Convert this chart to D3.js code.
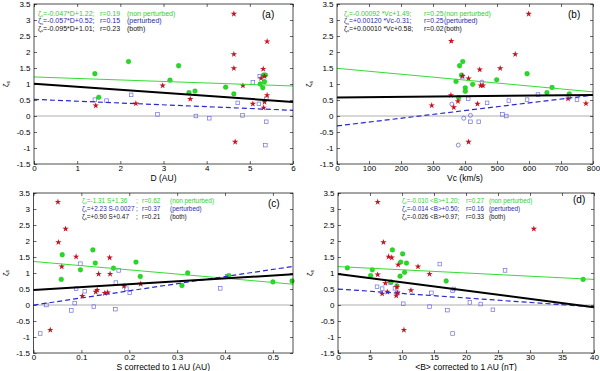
<!DOCTYPE html>
<html><head><meta charset="utf-8">
<script src="https://cdn.jsdelivr.net/npm/d3@7"></script>
<style>body{margin:0;background:#fff}svg{display:block;font-family:"Liberation Sans",Arial,sans-serif}</style>
</head><body><svg id="c" width="600" height="371"></svg>
<script>
// ---------- data ----------
const yTicks = [-1.5,-1,-0.5,0,0.5,1,1.5,2,2.5,3,3.5];
const aTicks = [0,1,2,3,4,5,6];
const bTicks = [0,100,200,300,400,500,600,700,800];
const cTicks = [0,0.1,0.2,0.3,0.4,0.5];
const dTicks = [0,5,10,15,20,25,30,35,40];

const aGreen = [[1.41,1.32],[1.50,0.585],[2.19,1.70],[3.15,1.12],[3.35,1.57],[3.59,0.73],[3.73,0.78],[4.44,0.90],[4.63,0.69],[5.24,1.00],[5.30,0.88],[5.32,1.28],[5.36,1.28],[5.34,1.07]];
const aRed = [[4.63,3.19],[4.63,1.93],[4.63,1.49],[5.40,2.33],[2.98,0.95],[3.62,0.53],[1.43,0.325],[2.36,0.39],[4.84,0.95],[5.07,0.38],[5.26,1.18],[5.31,1.47],[5.34,1.24],[5.40,0.65],[5.34,0.44],[5.32,0.26],[4.66,-0.81]];
const aBlue = [[1.41,0.51],[1.68,0.48],[2.25,0.66],[2.86,0.05],[3.75,0.0],[4.06,-0.07],[4.72,0.41],[4.83,0.02],[5.07,1.05],[5.23,1.24],[5.21,0.38],[5.38,0.54],[5.38,-0.18],[5.36,-0.91]];
const aFits = [[-0.047,1.22],[-0.057,0.52],[-0.095,1.01]];
const aLegend = [["=-0.047*D+1.22;","r=0.19","(non perturbed)"],["=-0.057*D+0.52;","r=0.15","(perturbed)"],["=-0.095*D+1.01;","r=0.23","(both)"]];

const bGreen = [[383,1.57],[393,1.70],[389,1.28],[372,1.08],[401,0.88],[401,0.77],[424,0.99],[380,0.57],[499,1.13],[594,1.32],[656,0.73],[672,0.89],[726,0.69]];
const bRed = [[599,3.19],[357,2.34],[557,1.93],[510,1.49],[446,1.45],[411,1.17],[392,1.25],[449,0.95],[456,0.95],[356,0.65],[296,0.33],[365,0.27],[378,0.46],[439,0.38],[722,0.54],[778,0.39],[411,-0.81]];
const bBlue = [[391,1.24],[410,0.54],[469,0.41],[537,0.48],[594,0.51],[628,0.67],[724,0.58],[750,0.51],[417,-0.18],[443,-0.18],[517,0.05],[529,0.0]];
const bCircles = [[359,0.37],[453,1.06],[396,-0.07],[417,0.02],[379,-0.91]];
const bFits = [[-0.00092,1.49],[0.00120,-0.31],[0.00010,0.58]];
const bLegend = [["=-0.00092 *Vc+1.49;","r=0.25","(non perturbed)"],["=+0.00120 *Vc-0.31;","r=0.25","(perturbed)"],["=+0.00010 *Vc+0.58;","r=0.02","(both)"]];

const cGreen = [[0.060,1.57],[0.058,0.80],[0.098,1.10],[0.124,1.72],[0.129,1.31],[0.167,1.15],[0.214,1.34],[0.223,0.89],[0.310,0.61],[0.322,1.00],[0.408,0.92],[0.500,0.72],[0.540,0.75]];
const cRed = [[0.051,3.22],[0.067,2.38],[0.052,1.96],[0.059,1.20],[0.089,1.51],[0.159,1.48],[0.136,0.97],[0.160,0.97],[0.133,0.47],[0.130,0.41],[0.149,0.37],[0.155,0.39],[0.102,0.28],[0.189,0.59],[0.224,0.66],[0.035,-0.78]];
const cBlue = [[0.014,-0.89],[0.027,0.0],[0.079,-0.17],[0.086,0.06],[0.089,0.51],[0.107,0.43],[0.098,1.29],[0.126,-0.05],[0.171,-0.13],[0.172,0.70],[0.178,1.08],[0.194,0.51],[0.201,0.38],[0.390,0.52],[0.405,0.90]];
const cFits = [[-1.31,1.36],[2.23,-0.0027],[0.90,0.47]];
const cLegend = [["=-1.31 S+1.36",";","r=0.62","(non perturbed)"],["=+2.23 S-0.0027",";","r=0.37","(perturbed)"],["=+0.90 S+0.47",";","r=0.21","(both)"]];

const dGreen = [[1.46,1.16],[5.36,1.10],[5.1,0.92],[8.5,1.72],[10.1,1.60],[9.8,1.34],[10.7,1.31],[10.4,1.02],[9.7,0.90],[8.3,0.72],[9.2,0.60],[16.9,0.75],[38.3,0.80]];
const dRed = [[6.2,3.22],[30.6,2.38],[7.1,1.96],[7.9,1.51],[8.4,1.48],[9.4,1.26],[12.5,1.20],[14.3,0.97],[6.2,0.95],[7.4,0.68],[9.2,0.56],[6.9,0.35],[7.7,0.41],[9.1,0.29],[9.3,0.38],[11.4,0.46],[10.3,-0.78]];
const dBlue = [[6.1,0.57],[6.9,0.51],[8.2,0.70],[8.9,0.52],[9.3,0.38],[10.2,0.04],[14.6,0.38],[14.3,-0.05],[15.9,1.28],[17.9,0.45],[18.1,0.50],[17.1,-0.16],[17.9,-0.89],[20.6,0.08],[22.3,0.03],[24.2,-0.15],[26.1,1.08]];
const dFits = [[-0.010,1.20],[-0.014,0.50],[-0.026,0.97]];
const dLegend = [["=-0.010 <B>+1.20;","r=0.27","(non perturbed)"],["=-0.014 <B>+0.50;","r=0.16","(perturbed)"],["=-0.026 <B>+0.97;","r=0.33","(both)"]];

// ---------- layout ----------
const panels = [
  {id:"(a)", L:34, R:293, T:4, B:164, dom:[0,6], ticks:aTicks, xlabel:"D (AU)",
   green:aGreen, red:aRed, blue:aBlue, circ:[], fits:aFits, leg:aLegend, legX:[38,100,127], legY:15.5, fs:7, lab:[262,18]},
  {id:"(b)", L:337, R:593, T:4, B:164, dom:[0,800], ticks:bTicks, xlabel:"Vc (km/s)",
   green:bGreen, red:bRed, blue:bBlue, circ:bCircles, fits:bFits, leg:bLegend, legX:[344,424,444], legY:15.5, fs:6.8, lab:[568,18]},
  {id:"(c)", L:33.5, R:293, T:193, B:353, dom:[0,0.542], ticks:cTicks, xlabel:"S corrected to 1 AU (AU)",
   green:cGreen, red:cRed, blue:cBlue, circ:[], fits:cFits, leg:cLegend, legX:[82,136,142,170], legY:203, fs:6.4, lab:[268,207]},
  {id:"(d)", L:338, R:594, T:193, B:353, dom:[0,40], ticks:dTicks, xlabel:"<B> corrected to 1 AU (nT)",
   green:dGreen, red:dRed, blue:dBlue, circ:[], fits:dFits, leg:dLegend, legX:[402,466,489], legY:203, fs:6.3, lab:[573,203]}
];
const fitColors = ["#33dd33","#2a2acc","#000"];
const legColors = ["#33cc33","#2a2aaa","#111"];

const svg = d3.select("#c");
panels.forEach(p=>{
  const x = d3.scaleLinear().domain(p.dom).range([p.L,p.R]);
  const y = d3.scaleLinear().domain([-1.5,3.5]).range([p.B,p.T]);
  const g = svg.append("g");
  g.append("line").attr("x1",p.L).attr("x2",p.R).attr("y1",y(0)).attr("y2",y(0)).attr("stroke","#999").attr("stroke-width",0.8);
  const ax = d3.axisBottom(x).tickValues(p.ticks).tickFormat(d=>String(d)).tickSizeInner(-3).tickSizeOuter(0).tickPadding(1.5);
  const ay = d3.axisLeft(y).tickValues(yTicks).tickFormat(d=>String(d)).tickSizeInner(-3).tickSizeOuter(0).tickPadding(3.5);
  const axT = d3.axisTop(x).tickValues(p.ticks).tickFormat("").tickSizeInner(-3).tickSizeOuter(0);
  const ayR = d3.axisRight(y).tickValues(yTicks).tickFormat("").tickSizeInner(-3).tickSizeOuter(0);
  [[ax,`translate(0,${p.B})`],[ay,`translate(${p.L},0)`],[axT,`translate(0,${p.T})`],[ayR,`translate(${p.R},0)`]].forEach(([a,t])=>{
    const gg = g.append("g").attr("transform",t).call(a);
    gg.select(".domain").remove();
    gg.selectAll("line").attr("stroke","#000").attr("stroke-width",0.6);
    gg.selectAll("text").attr("font-size",8).attr("fill","#000");
  });
  g.selectAll(".bs").data(p.blue).enter().append("rect")
    .attr("x",d=>x(d[0])-1.8).attr("y",d=>y(d[1])-1.8).attr("width",3.6).attr("height",3.6)
    .attr("fill","none").attr("stroke","#7070dd").attr("stroke-width",0.7);
  g.selectAll(".bc").data(p.circ).enter().append("circle")
    .attr("cx",d=>x(d[0])).attr("cy",d=>y(d[1])).attr("r",2)
    .attr("fill","none").attr("stroke","#5a5ad0").attr("stroke-width",0.7);
  g.selectAll(".gd").data(p.green).enter().append("circle")
    .attr("cx",d=>x(d[0])).attr("cy",d=>y(d[1])).attr("r",2.4)
    .attr("fill","#22dd22").attr("stroke","#119911").attr("stroke-width",0.3);
  const star = d3.symbol().type(d3.symbolStar).size(13);
  g.selectAll(".rs").data(p.red).enter().append("path")
    .attr("d",star).attr("transform",d=>`translate(${x(d[0])},${y(d[1])})`)
    .attr("fill","#c41424");
  p.fits.forEach((f,i)=>{
    const pts = p.dom.map(v=>[v, f[0]*v+f[1]]);
    g.append("path").attr("d",d3.line().x(d=>x(d[0])).y(d=>y(d[1]))(pts))
      .attr("fill","none").attr("stroke",fitColors[i])
      .attr("stroke-width",i===2?2:(i===1?1.2:1))
      .attr("stroke-dasharray",i===1?"5,3":null);
  });
  g.append("rect").attr("x",p.L).attr("y",p.T).attr("width",p.R-p.L).attr("height",p.B-p.T)
    .attr("fill","none").attr("stroke","#000").attr("stroke-width",0.7);
  p.leg.forEach((row,i)=>{
    const yy = p.legY + i*7.8;
    row.forEach((s,j)=>{
      const t = g.append("text").attr("x",p.legX[j]).attr("y",yy).attr("font-size",p.fs).attr("fill",legColors[i]);
      if(j===0){
        t.append("tspan").text("ζ");
        t.append("tspan").text("s").attr("font-size",4).attr("dy",1.2);
        t.append("tspan").text(s).attr("dy",-1.2);
      } else t.text(s);
    });
  });
  g.append("text").attr("x",p.lab[0]).attr("y",p.lab[1]).attr("font-size",10).text(p.id);
  g.append("text").attr("x",(p.L+p.R)/2).attr("y",p.B+16.5).attr("text-anchor","middle").attr("font-size",8.5).text(p.xlabel);
  const yl = g.append("text").attr("transform",`translate(${p.L-26},${(p.T+p.B)/2}) rotate(-90)`).attr("text-anchor","middle").attr("font-size",8);
  yl.append("tspan").text("ζ");
  yl.append("tspan").text("s").attr("font-size",5).attr("dy",1.5);
});
</script></body></html>
